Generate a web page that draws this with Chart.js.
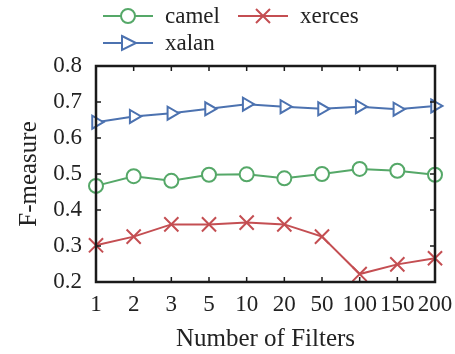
<!DOCTYPE html>
<html>
<head>
<meta charset="utf-8">
<script src="https://cdn.jsdelivr.net/npm/chart.js@4"></script>
<style>
  html, body { margin: 0; padding: 0; background: #fff; }
  #wrap { width: 455px; height: 354px; }
</style>
</head>
<body>
<div id="wrap"><canvas id="fChart" width="455" height="354"></canvas></div>
<script>
const filterCounts = ['1', '2', '3', '5', '10', '20', '50', '100', '150', '200'];
const camelScores = [0.467, 0.494, 0.481, 0.498, 0.499, 0.488, 0.500, 0.514, 0.509, 0.498];
const xercesScores = [0.302, 0.326, 0.360, 0.360, 0.365, 0.360, 0.326, 0.222, 0.249, 0.266];
const xalanScores = [0.644, 0.660, 0.669, 0.681, 0.694, 0.687, 0.681, 0.687, 0.680, 0.689];

const FONT = "'Liberation Serif', 'Times New Roman', serif";
const GREEN = '#55a868', RED = '#c44e52', BLUE = '#4c72b0';

function drawMarker(ctx, style, x, y, color) {
    ctx.save();
    ctx.strokeStyle = color;
    ctx.fillStyle = '#fff';
    ctx.lineWidth = 2;
    ctx.beginPath();
    if (style === 'circle') {
        ctx.arc(x, y, 7, 0, Math.PI * 2);
        ctx.fill();
        ctx.stroke();
    } else if (style === 'crossRot') {
        const r = 7;
        ctx.moveTo(x - r, y - r); ctx.lineTo(x + r, y + r);
        ctx.moveTo(x + r, y - r); ctx.lineTo(x - r, y + r);
        ctx.stroke();
    } else {
        ctx.moveTo(x - 6, y - 7); ctx.lineTo(x + 8, y); ctx.lineTo(x - 6, y + 7);
        ctx.closePath();
        ctx.fill();
        ctx.stroke();
    }
    ctx.restore();
}

// frame with inward ticks on all four sides, plus the legend
const framePlugin = {
    id: 'frame',
    afterDraw(chart) {
        const ctx = chart.ctx;
        const a = chart.chartArea;
        const xs = chart.scales.x, ys = chart.scales.y;
        ctx.save();
        ctx.strokeStyle = '#1a1a1a';
        ctx.lineWidth = 1.5;
        ctx.beginPath();
        xs.ticks.forEach((t, i) => {
            const px = xs.getPixelForTick(i);
            ctx.moveTo(px, a.bottom); ctx.lineTo(px, a.bottom - 5);
            ctx.moveTo(px, a.top); ctx.lineTo(px, a.top + 5);
        });
        ys.ticks.forEach((t, i) => {
            const py = ys.getPixelForTick(i);
            ctx.moveTo(a.left, py); ctx.lineTo(a.left + 5, py);
            ctx.moveTo(a.right, py); ctx.lineTo(a.right - 5, py);
        });
        ctx.stroke();
        ctx.lineWidth = 2.5;
        ctx.strokeRect(a.left, a.top, a.right - a.left, a.bottom - a.top);

        // legend
        const items = [
            { label: 'camel', color: GREEN, style: 'circle', x: 103, y: 16 },
            { label: 'xerces', color: RED, style: 'crossRot', x: 238, y: 16 },
            { label: 'xalan', color: BLUE, style: 'triangle', x: 103, y: 43 }
        ];
        ctx.font = '23px ' + FONT;
        ctx.textBaseline = 'middle';
        items.forEach(it => {
            ctx.strokeStyle = it.color;
            ctx.lineWidth = 2;
            ctx.beginPath();
            ctx.moveTo(it.x, it.y); ctx.lineTo(it.x + 50, it.y);
            ctx.stroke();
            drawMarker(ctx, it.style, it.x + 25, it.y, it.color);
            ctx.fillStyle = '#222';
            ctx.fillText(it.label, it.x + 62, it.y + 1);
        });
        ctx.restore();
    }
};

const ctx = document.getElementById('fChart').getContext('2d');
new Chart(ctx, {
    type: 'line',
    data: {
        labels: filterCounts,
        datasets: [
            { label: 'camel', data: camelScores, borderColor: GREEN, backgroundColor: '#fff',
              pointStyle: 'circle', pointRadius: 7, pointBorderWidth: 2, borderWidth: 2 },
            { label: 'xerces', data: xercesScores, borderColor: RED, backgroundColor: RED,
              pointStyle: 'crossRot', pointRadius: 10, pointBorderWidth: 2, borderWidth: 2 },
            { label: 'xalan', data: xalanScores, borderColor: BLUE, backgroundColor: '#fff',
              pointStyle: 'triangle', pointRotation: 90, pointRadius: 7.5, pointBorderWidth: 2, borderWidth: 2 }
        ]
    },
    options: {
        responsive: false,
        animation: false,
        layout: { padding: { top: 66, right: 20, left: 0, bottom: 0 } },
        plugins: { legend: { display: false }, tooltip: { enabled: false } },
        elements: { line: { tension: 0 } },
        scales: {
            x: {
                offset: false,
                grid: { display: false, drawTicks: false },
                border: { display: false },
                ticks: { color: '#222', font: { family: FONT, size: 23 }, padding: 9, maxRotation: 0, autoSkip: false },
                title: { display: true, text: 'Number of Filters', color: '#222', font: { family: FONT, size: 25 }, padding: { top: 6, bottom: 0 } },
                afterFit(scale) {
                    scale.height = 72;
                    scale.paddingLeft = 0;
                    scale.paddingRight = 0;
                }
            },
            y: {
                min: 0.2, max: 0.8,
                grid: { display: false, drawTicks: false },
                border: { display: false },
                ticks: { stepSize: 0.1, color: '#222', font: { family: FONT, size: 23 }, padding: 14,
                         callback: v => v.toFixed(1) },
                title: { display: true, text: 'F-measure', color: '#222', font: { family: FONT, size: 25 }, padding: { top: 14, bottom: 0 } },
                afterFit(scale) {
                    scale.width = 96;
                    scale.paddingTop = 0;
                    scale.paddingBottom = 0;
                }
            }
        }
    },
    plugins: [framePlugin]
});
</script>
</body>
</html>
